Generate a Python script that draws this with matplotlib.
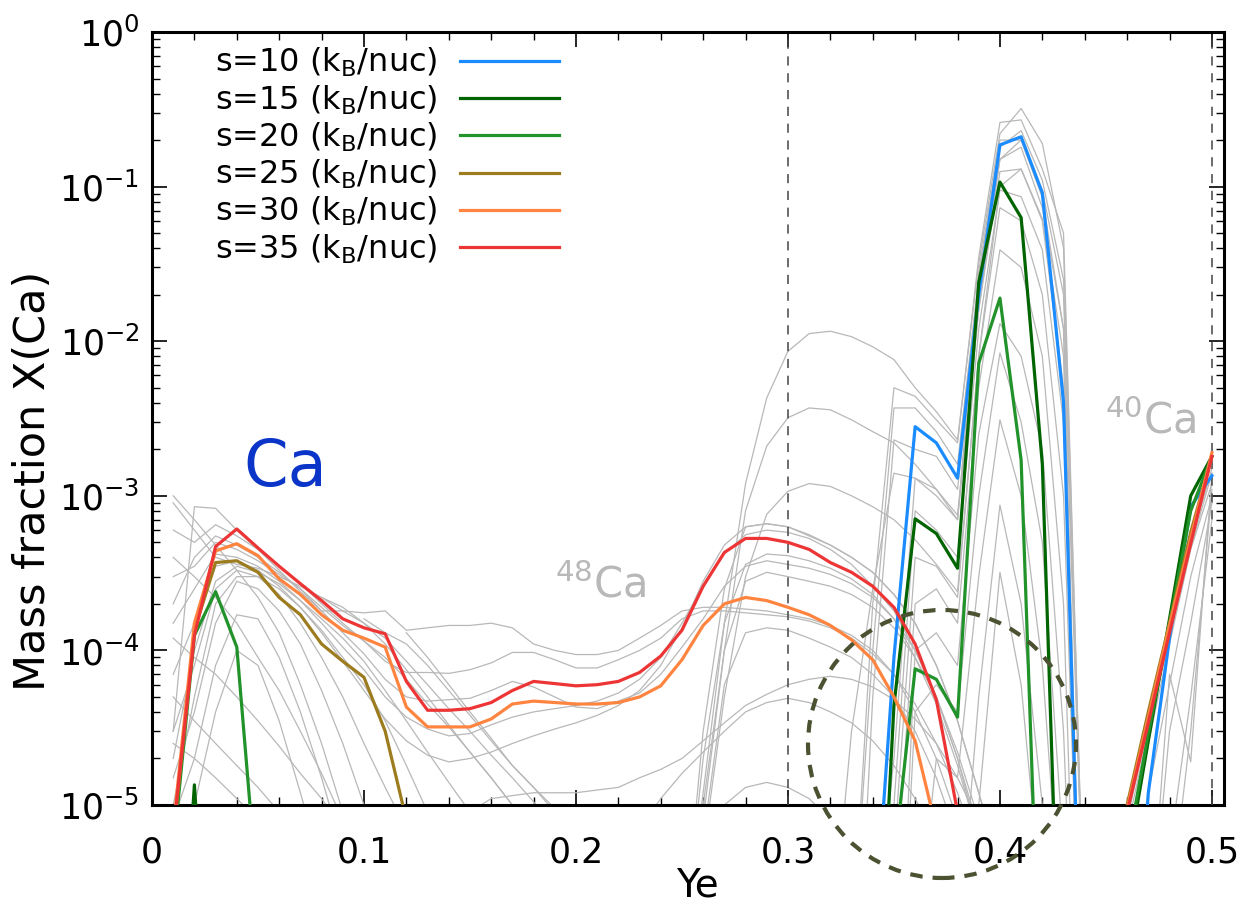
import numpy as np
import matplotlib
matplotlib.use('Agg')
import matplotlib.pyplot as plt
from matplotlib.patches import Ellipse
from matplotlib.ticker import LogLocator, MultipleLocator, NullFormatter, FuncFormatter

plt.rcParams['font.family'] = ['DejaVu Sans']
plt.rcParams['mathtext.fontset'] = 'dejavusans'

# ---------------- data ----------------
ye = np.round(np.arange(1, 51) * 0.01, 2)   # Ye grid 0.01 ... 0.50
N = None

labels = ["s=10 (k$_\\mathregular{B}$/nuc)", "s=15 (k$_\\mathregular{B}$/nuc)",
          "s=20 (k$_\\mathregular{B}$/nuc)", "s=25 (k$_\\mathregular{B}$/nuc)",
          "s=30 (k$_\\mathregular{B}$/nuc)", "s=35 (k$_\\mathregular{B}$/nuc)"]
colors = ['#1a8cff', '#006400', '#22922a', '#9c7c1e', '#ff8440', '#ee3535']

# each series: list of (start Ye, values)
s10 = [(0.34, [1e-6, 9e-5, 2.8e-3, 2.2e-3, 1.3e-3, 2.0e-2, 0.186, 0.21, 0.091, 4.0e-3, 1e-7]),
       (0.45, [1e-8, 1e-7, 1.2e-5, 1.2e-4, 8.5e-4, 1.35e-3])]
s15 = [(0.01, [1e-7, 1.35e-5, 1e-7]),
       (0.34, [1e-7, 4.4e-5, 7.1e-4, 5.7e-4, 3.4e-4, 2.4e-2, 0.107, 0.063, 1.6e-3, 1e-7]),
       (0.45, [1e-7, 4.2e-6, 2.6e-5, 1.6e-4, 1.0e-3, 1.8e-3])]
s20 = [(0.01, [5e-6, 1.25e-4, 2.4e-4, 1.05e-4, 2.4e-6]),
       (0.34, [1e-7, 4.3e-6, 7.6e-5, 6.5e-5, 3.7e-5, 7.2e-3, 1.9e-2, 1.7e-3, 2e-7]),
       (0.45, [1e-7, 5e-6, 2.9e-5, 1.5e-4, 8e-4, 1.8e-3])]
s25 = [(0.01, [6e-6, 1.35e-4, 3.7e-4, 3.8e-4, 3.2e-4, 2.2e-4, 1.7e-4, 1.1e-4, 8.5e-5, 6.7e-5,
               3.0e-5, 8e-6, 1e-7]),
       (0.45, [1e-7, 1e-5, 4e-5, 1.5e-4, 5.8e-4, 1.8e-3])]
s30 = [(0.01, [7e-6, 1.5e-4, 4.4e-4, 4.9e-4, 4.1e-4, 2.9e-4, 2.3e-4, 1.7e-4, 1.35e-4, 1.2e-4,
               1.05e-4, 4.3e-5, 3.2e-5, 3.2e-5, 3.2e-5, 3.6e-5, 4.5e-5, 4.7e-5, 4.6e-5, 4.5e-5,
               4.5e-5, 4.6e-5, 5.0e-5, 5.9e-5, 8.7e-5, 1.45e-4, 2.0e-4, 2.2e-4, 2.1e-4, 1.9e-4,
               1.7e-4, 1.45e-4, 1.17e-4, 8.7e-5, 5.0e-5, 2.6e-5, 7e-6, 1e-7]),
       (0.45, [1e-7, 9.5e-6, 3.7e-5, 1.45e-4, 5.3e-4, 1.9e-3])]
s35 = [(0.01, [6.6e-6, 1.25e-4, 4.7e-4, 6.1e-4, 4.6e-4, 3.5e-4, 2.7e-4, 2.1e-4, 1.6e-4, 1.4e-4,
               1.28e-4, 6.3e-5, 4.1e-5, 4.1e-5, 4.2e-5, 4.6e-5, 5.5e-5, 6.3e-5, 6.1e-5, 5.9e-5,
               6.0e-5, 6.3e-5, 7.2e-5, 9.2e-5, 1.35e-4, 2.6e-4, 4.3e-4, 5.3e-4, 5.3e-4, 5.0e-4,
               4.5e-4, 3.7e-4, 3.2e-4, 2.6e-4, 1.9e-4, 1.1e-4, 4.8e-5, 9e-6, 1e-7]),
       (0.45, [1e-7, 9e-6, 3.4e-5, 1.3e-4, 4.9e-4, 1.8e-3])]
colored = [s10, s15, s20, s25, s30, s35]

# grey background trajectories (start Ye, values)
gray_left = [
    (0.01, [1.0e-3, 7.0e-4, 4.8e-4, 3.3e-4, 2.2e-4, 1.3e-4, 6e-5, 2.5e-5, 9e-6, 3e-6]),
    (0.01, [3e-5, 8.5e-4, 8.3e-4, 6.0e-4, 4.5e-4, 3.3e-4, 2.4e-4, 1.8e-4, 1.8e-4, 1.75e-4,
            1.8e-4, 1.35e-4, 1.4e-4, 1.45e-4, 1.45e-4, 1.5e-4, 1.4e-4, 1.1e-4, 1.0e-4, 9.4e-5,
            9.4e-5, 1.0e-4, 1.2e-4, 1.45e-4, 1.8e-4, 1.9e-4, 1.9e-4, 1.85e-4, 1.8e-4, 1.7e-4,
            1.6e-4, 1.45e-4, 1.25e-4, 1.0e-4, 7e-5, 4e-5, 2e-5, 8e-6, 2e-6]),
    (0.01, [6e-4, 5.0e-4, 6.5e-4, 5.5e-4, 4.5e-4, 3.5e-4, 2.7e-4, 2.0e-4, 1.5e-4, 1.15e-4,
            8.5e-5, 7.2e-5, 7.2e-5, 7.1e-5, 7.5e-5, 8.3e-5, 9.7e-5, 9.7e-5, 8.7e-5, 7.7e-5,
            7.7e-5, 8.7e-5, 1.0e-4, 1.2e-4, 1.6e-4, 1.8e-4, 1.8e-4, 1.75e-4, 1.7e-4, 1.65e-4,
            1.55e-4, 1.4e-4, 1.2e-4, 9.5e-5, 7e-5, 4.5e-5, 2.5e-5, 1.2e-5, 5e-6]),
    (0.01, [3e-4, 3.5e-4, 5.0e-4, 4.5e-4, 3.8e-4, 3.1e-4, 2.5e-4, 1.8e-4, 1.3e-4, 9.5e-5,
            6.5e-5, 5.0e-5, 4.7e-5, 4.8e-5, 4.9e-5, 5.5e-5, 6.3e-5, 5.8e-5, 5.0e-5, 4.3e-5,
            4.2e-5, 4.7e-5, 5.3e-5, 7e-5, 1.05e-4, 1.6e-4, 2.6e-4, 3.5e-4, 3.8e-4, 3.6e-4,
            3.4e-4, 3.1e-4, 2.7e-4, 2.2e-4, 1.6e-4, 1.0e-4, 5e-5, 2e-5, 7e-6]),
    (0.01, [1.5e-4, 2.5e-4, 4.2e-4, 4.0e-4, 3.5e-4, 2.8e-4, 2.1e-4, 1.5e-4, 1.05e-4, 7.5e-5,
            5.0e-5, 3.7e-5, 3.1e-5, 2.8e-5, 2.9e-5, 3.3e-5, 3.7e-5, 4.0e-5, 4.2e-5, 4.4e-5,
            4.7e-5, 5.3e-5, 6.5e-5, 9e-5, 1.5e-4, 2.6e-4, 4.2e-4, 5.6e-4, 6.0e-4, 5.8e-4,
            5.3e-4, 4.5e-4, 3.6e-4, 2.6e-4, 1.8e-4, 1.0e-4, 5e-5, 2e-5, 6e-6]),
    (0.01, [7e-5, 1.5e-4, 3.5e-4, 3.8e-4, 3.3e-4, 2.6e-4, 1.9e-4, 1.3e-4, 8.5e-5, 5.5e-5,
            3.6e-5, 2.6e-5, 2.1e-5, 1.9e-5, 2.0e-5, 2.2e-5, 2.5e-5, 2.8e-5, 3.1e-5, 3.4e-5,
            3.8e-5, 4.4e-5, 5.5e-5, 8e-5, 1.4e-4, 2.8e-4, 4.8e-4, 6.3e-4, 6.6e-4, 6.3e-4,
            5.6e-4, 4.8e-4, 4.0e-4, 3.2e-4, 2.3e-4, 1.5e-4, 8e-5, 3.5e-5, 1.2e-5, 4e-6]),
    (0.01, [3e-5, 8e-5, 2.5e-4, 3.3e-4, 3.0e-4, 2.3e-4, 1.5e-4, 9e-5, 5e-5, 2.5e-5, 1.3e-5, 7e-6, 3e-6]),
    (0.01, [1.5e-5, 4e-5, 1.5e-4, 2.8e-4, 2.5e-4, 1.8e-4, 1.1e-4, 5.5e-5, 2.5e-5, 1e-5, 4e-6]),
    (0.01, [8e-6, 2e-5, 8e-5, 1.7e-4, 1.6e-4, 9e-5, 4e-5, 1.5e-5, 5e-6]),
    (0.01, [5e-6, 1e-5, 4e-5, 1.0e-4, 8e-5, 3.5e-5, 1.2e-5, 4e-6]),
    (0.01, [4e-4, 3e-4, 2.2e-4, 1.5e-4, 9e-5, 5.5e-5, 3e-5, 1.6e-5, 8e-6, 3e-6]),
    (0.01, [1.2e-4, 9e-5, 7e-5, 5e-5, 3.5e-5, 2.4e-5, 1.6e-5, 1.1e-5, 7e-6, 4e-6]),
    (0.01, [5e-5, 3.5e-5, 2.5e-5, 1.8e-5, 1.3e-5, 9e-6, 6e-6]),
    (0.01, [2.5e-5, 2e-5, 1.5e-5, 1.1e-5, 8e-6, 5e-6]),
    (0.01, [1e-5, 5e-5, 2e-4, 3.0e-4, 3.0e-4, 2.5e-4, 1.9e-4, 1.35e-4, 9e-5, 6e-5, 3.5e-5, 1.8e-5, 9e-6, 4e-6]),
    (0.01, [2e-5, 1e-4, 2.8e-4, 3.5e-4, 3.2e-4, 2.7e-4, 2.1e-4, 1.6e-4, 1.2e-4, 8.5e-5, 5.5e-5,
            3.5e-5, 2.2e-5, 1.4e-5, 9e-6, 5e-6]),
    (0.01, [2e-4, 4e-4, 5.5e-4, 4.8e-4, 4.0e-4, 3.2e-4, 2.5e-4, 1.9e-4, 1.45e-4, 1.15e-4, 9e-5,
            6.5e-5, 4.5e-5, 3.2e-5, 2.2e-5, 1.5e-5, 1.0e-5, 7e-6, 4e-6]),
    (0.01, [9e-4, 6e-4, 4e-4, 3.6e-4, 3.4e-4, 3.0e-4, 2.6e-4, 2.2e-4, 1.9e-4, 1.5e-4, 1.1e-4,
            7.5e-5, 5e-5, 3.3e-5, 2.2e-5, 1.5e-5, 1e-5, 6e-6]),
    (0.08, [2.2e-4, 1.8e-4, 1.5e-4, 1.2e-4, 8.5e-5, 6e-5, 4.2e-5, 3e-5, 2.1e-5, 1.5e-5, 1.05e-5, 7e-6, 4e-6]),
    (0.10, [1.6e-4, 1.3e-4, 1.1e-4, 8e-5, 5.5e-5, 3.8e-5, 2.6e-5, 1.8e-5, 1.3e-5, 9e-6, 6e-6, 4e-6]),
    (0.12, [1.3e-4, 9e-5, 6e-5, 4e-5, 2.7e-5, 1.8e-5, 1.3e-5, 9.5e-6, 7e-6, 5e-6]),
    (0.14, [4e-6, 9e-6, 1.1e-5, 1.15e-5, 1.2e-5, 1.2e-5, 1.2e-5, 1.25e-5, 1.3e-5, 1.5e-5, 1.7e-5,
            2e-5, 2.6e-5, 3.4e-5, 4.4e-5, 5.2e-5, 6e-5, 6.5e-5, 6.8e-5, 6.5e-5, 5.8e-5, 4.8e-5,
            3.6e-5, 2.5e-5, 1.5e-5, 8e-6]),
    (0.22, [4e-6, 7e-6, 1.1e-5, 1.6e-5, 2.2e-5, 3e-5, 4e-5, 4.6e-5, 4.9e-5, 4.6e-5, 4e-5, 3.4e-5,
            2.6e-5, 1.8e-5, 1.1e-5, 6e-6]),
    (0.25, [1e-6, 5e-6, 1.0e-5, 1.3e-5, 1.4e-5, 1.3e-5, 1.1e-5, 8e-6, 5e-6]),
]
gray_mid = [
    (0.25, [1e-6, 1.2e-5, 1.5e-4, 1.2e-3, 4.3e-3, 8.6e-3, 1.12e-2, 1.16e-2, 1.07e-2, 9.2e-3, 7.6e-3,
            5.0e-3, 3.5e-3, 2.3e-3, 3.2e-2, 0.22, 0.32, 0.19, 0.04, 1e-6]),
    (0.25, [1e-6, 8e-6, 1e-4, 8e-4, 2.1e-3, 3.2e-3, 3.7e-3, 3.6e-3, 3.1e-3, 2.6e-3, 2.2e-3, 1.6e-3,
            1.1e-3, 7.5e-4, 1.6e-2, 0.15, 0.2, 0.085, 0.012, 1e-7]),
    (0.25, [1e-6, 5e-6, 5e-5, 3e-4, 7.6e-4, 1.07e-3, 1.2e-3, 1.15e-3, 1.0e-3, 8.5e-4, 7e-4, 5.2e-4,
            3.6e-4, 2.4e-4, 8e-3, 0.1, 0.13, 0.06, 5e-3, 1e-7]),
    (0.25, [1e-6, 3e-5, 2.5e-4, 6.3e-4, 6.6e-4, 6.3e-4, 5.5e-4, 4.8e-4, 4.0e-4, 3.2e-4, 2.3e-4,
            1.5e-4, 8e-5, 3.5e-5, 1.2e-5, 4e-6]),
    (0.25, [1e-6, 2e-5, 1.5e-4, 3.6e-4, 4.2e-4, 4.1e-4, 3.8e-4, 3.4e-4, 2.9e-4, 2.3e-4, 1.6e-4,
            9e-5, 4.5e-5, 1.8e-5, 6e-6]),
    (0.25, [1e-6, 6e-6, 6e-5, 1.3e-4, 1.4e-4, 1.35e-4, 1.2e-4, 1.05e-4, 9e-5, 7e-5, 5e-5, 3e-5,
            1.5e-5, 6e-6]),
    (0.25, [1e-6, 1e-5, 1e-4, 2.8e-4, 3.2e-4, 3.0e-4, 2.8e-4, 2.6e-4, 2.3e-4, 1.9e-4, 1.4e-4,
            9e-5, 5e-5, 2.2e-5, 8e-6]),
]
gray_peak = [
    (0.32, [1e-7, 1e-6, 2e-4, 5.0e-3, 4.4e-3, 3.1e-3, 2.2e-3, 3.5e-2, 0.26, 0.27, 0.13, 0.05, 1e-6]),
    (0.32, [1e-6, 3e-5, 2.5e-4, 1.4e-3, 1.3e-3, 1.0e-3, 7e-4, 2.8e-2, 0.20, 0.20, 0.095, 0.02, 1e-6]),
    (0.32, [N, 1e-6, 1e-4, 3.7e-3, 3.7e-3, 2.6e-3, 1.6e-3, 2.6e-2, 0.18, 0.23, 0.11, 0.025, 1e-6]),
    (0.32, [N, 1e-7, 5e-5, 2.3e-3, 2.0e-3, 1.8e-3, 1.1e-3, 2.2e-2, 0.15, 0.18, 0.073, 0.012, 1e-6]),
    (0.32, [N, N, 1e-6, 2e-5, 1.3e-3, 1.1e-3, 7e-4, 1.6e-2, 0.125, 0.13, 0.062, 8e-3, 1e-7]),
    (0.32, [N, N, 1e-7, 1e-5, 8e-4, 6e-4, 4e-4, 1.2e-2, 0.095, 0.086, 0.039, 3e-3, 1e-7]),
    (0.32, [N, N, N, 5e-6, 4e-4, 3.5e-4, 2.2e-4, 8e-3, 0.073, 0.06, 0.02, 1e-3, 1e-7]),
    (0.32, [N, N, N, 2e-6, 2e-4, 2.5e-4, 1.5e-4, 5e-3, 0.039, 0.03, 8e-3, 2e-4, 1e-8]),
    (0.32, [N, N, N, 1e-7, 1e-4, 1.3e-4, 8e-5, 2.5e-3, 0.013, 8e-3, 2e-3, 3e-5, 1e-8]),
    (0.32, [N, N, N, 1e-7, 4e-5, 6e-5, 4e-5, 1e-3, 8.4e-3, 3e-3, 5e-4, 5e-6]),
    (0.32, [N, N, N, N, 1e-6, 2e-5, 1.5e-5, 3e-4, 3.1e-3, 1e-3, 8e-5, 1e-6]),
    (0.32, [N, N, N, N, N, 1e-7, 1e-6, 5e-5, 8.7e-4, 2e-4, 1e-5, 1e-7]),
    (0.32, [N, N, N, N, N, N, 1e-7, 1e-5, 3.2e-4, 6e-5, 2e-6]),
]
gray_right = [
    (0.45, [1e-7, 8e-6, 3.3e-5, 1.3e-4, 5e-4, 1.5e-3]),
    (0.45, [1e-7, 5e-6, 2.5e-5, 1.1e-4, 4.5e-4, 1.2e-3]),
    (0.45, [1e-7, 2e-6, 1.2e-5, 6e-5, 3e-4, 1.0e-3]),
    (0.45, [N, 1e-7, 1e-6, 3e-5, 1.5e-4, 9e-4]),
    (0.45, [N, N, 1e-7, 5e-6, 5e-5, 7e-4]),
    (0.45, [N, 1e-7, 1e-6, 7e-5, 1.9e-5, 1.4e-3]),
    (0.45, [N, N, 1e-7, 2e-6, 3e-5, 1.1e-3]),
    (0.45, [1e-7, 7e-6, 3e-5, 1.2e-4, 4.6e-4, 1.4e-3]),
]

vlines_ye = [0.30, 0.50]


def to_full(segments):
    y = np.full(ye.size, np.nan)
    for start, vals in segments:
        i0 = int(round(start * 100)) - 1
        arr = np.array([np.nan if v is None else v for v in vals], dtype=float)
        y[i0:i0 + len(arr)] = arr
    return y


# ---------------- figure ----------------
W, H = 1247, 915
fig = plt.figure(figsize=(W / 100, H / 100), dpi=100)
L, R, T, B = 152, 1224, 32, 805
ax = fig.add_axes([L / W, 1 - B / H, (R - L) / W, (B - T) / H])

for grp in (gray_left, gray_mid, gray_peak, gray_right):
    for seg in grp:
        ax.plot(ye, to_full([seg]), color='#b8b8b8', lw=0.9, zorder=2)

for x in vlines_ye:
    ax.axvline(x, color='#444444', lw=1.1, ls=(0, (6, 5)), zorder=3)

handles = []
for ser, c, lab in zip(colored, colors, labels):
    ln, = ax.plot(ye, to_full(ser), color=c, lw=2.3, zorder=4, label=lab)
    handles.append(ln)

ax.set_yscale('log')
ax.set_xlim(0, 0.5057)
ax.set_ylim(1e-5, 1)

ax.xaxis.set_major_locator(MultipleLocator(0.1))
ax.xaxis.set_minor_locator(MultipleLocator(0.02))
ax.yaxis.set_major_locator(LogLocator(base=10, numticks=10))
ax.yaxis.set_minor_locator(LogLocator(base=10, subs=np.arange(2, 10), numticks=20))
ax.yaxis.set_minor_formatter(NullFormatter())
ax.xaxis.set_major_formatter(FuncFormatter(lambda v, p: '0' if abs(v) < 1e-9 else f'{v:.1f}'))

ax.tick_params(which='both', direction='in', top=True, right=True, colors='black')
ax.tick_params(which='major', length=11, width=1.2, labelsize=25)
ax.tick_params(which='minor', length=6, width=1.0)
ax.tick_params(axis='x', which='major', pad=22)
ax.tick_params(axis='y', which='major', pad=9)
for sp in ax.spines.values():
    sp.set_linewidth(2.2)

ax.set_xlabel('Ye', fontsize=28)
ax.xaxis.set_label_coords((697 - L) / (R - L), -0.080)
ax.set_ylabel('Mass fraction X(Ca)', fontsize=31)
ax.yaxis.set_label_coords(-0.091, (B - 481) / (B - T))

# annotations
ax.text(0.124, 0.436, 'Ca', transform=ax.transAxes, fontsize=46, color='#0a35c8',
        ha='center', va='center')
ax.text(0.376, 0.268, '$^{48}$Ca', transform=ax.transAxes, fontsize=30, color='#b8b8b8',
        ha='left', va='baseline')
ax.text(0.889, 0.481, '$^{40}$Ca', transform=ax.transAxes, fontsize=30, color='#b8b8b8',
        ha='left', va='baseline')

# dashed circle
cx, cy, r = 942, 744, 134
ell = Ellipse(((cx - L) / (R - L), (B - cy) / (B - T)), 2 * r / (R - L), 2 * r / (B - T),
              transform=ax.transAxes, fill=False, edgecolor='#4b5232', lw=3.0,
              ls=(0, (3.0, 2.4)), clip_on=False, zorder=5)
ax.add_patch(ell)

leg = ax.legend(handles=handles, loc='upper left',
                bbox_to_anchor=((215 - L) / (R - L), (B - 46) / (B - T)),
                markerfirst=False, frameon=False, fontsize=23, handlelength=3.1,
                handletextpad=0.7, labelspacing=0.12, borderpad=0, borderaxespad=0)

fig.savefig('out.png', dpi=100)
